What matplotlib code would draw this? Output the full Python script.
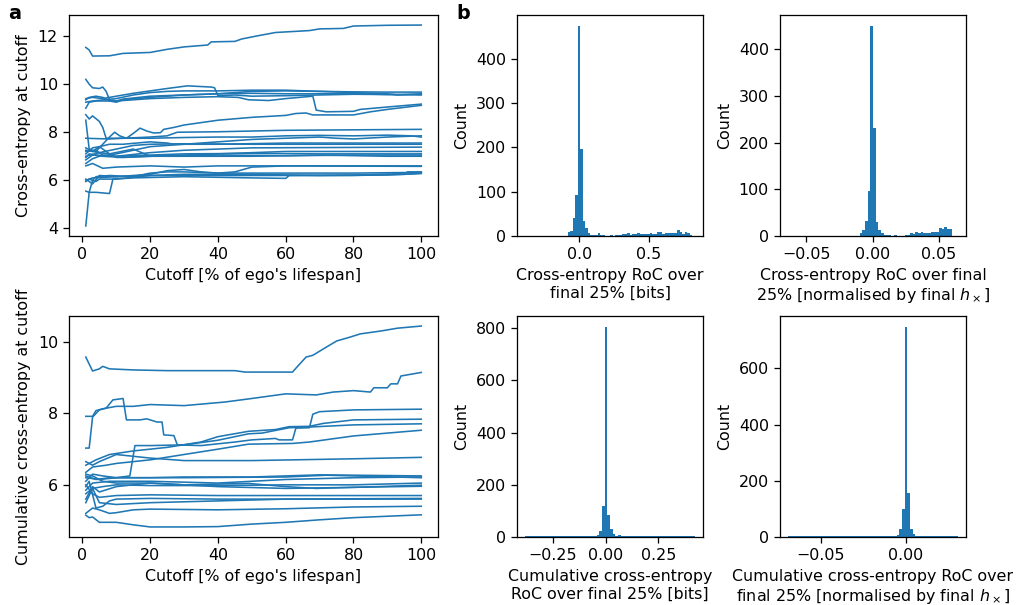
import matplotlib
matplotlib.use("Agg")
import matplotlib.pyplot as plt
import numpy as np

# panel a: (cutoff %, cross-entropy) traces, one list per ego
ce_lines = [
    [(1, 11.53), (2, 11.42), (3, 11.17), (8, 11.18), (12, 11.28), (20, 11.32), (25, 11.45), (30, 11.55), (37, 11.63), (38, 11.76), (45, 11.78), (47, 11.88), (52, 12.02), (57, 12.15), (67, 12.23), (70, 12.3), (77, 12.32), (80, 12.42), (90, 12.45), (100, 12.46)],
    [(1, 10.2), (2, 10.0), (3, 9.85), (5, 9.82), (6, 9.88), (7, 9.7), (8, 9.35), (10, 9.3), (12, 9.38), (20, 9.5), (30, 9.55), (40, 9.6), (50, 9.62), (60, 9.6), (70, 9.6), (80, 9.6), (90, 9.57), (100, 9.55)],
    [(1, 9.4), (3, 9.45), (6, 9.4), (10, 9.5), (15, 9.62), (20, 9.72), (25, 9.82), (31, 9.93), (38, 9.88), (39, 9.85), (40, 9.52), (45, 9.55), (50, 9.5), (60, 9.52), (70, 9.55), (80, 9.58), (90, 9.57), (100, 9.58)],
    [(1, 9.35), (2, 9.45), (4, 9.5), (6, 9.45), (8, 9.3), (10, 9.25), (12, 9.35), (20, 9.45), (30, 9.55), (40, 9.6), (50, 9.7), (60, 9.72), (70, 9.7), (80, 9.68), (90, 9.67), (100, 9.67)],
    [(1, 9.0), (2, 9.25), (4, 9.3), (10, 9.3), (15, 9.35), (20, 9.4), (30, 9.45), (40, 9.48), (46, 9.45), (49, 9.35), (55, 9.32), (60, 9.4), (68, 9.5), (69, 8.92), (72, 8.85), (80, 8.87), (82, 8.95), (90, 9.05), (100, 9.17)],
    [(1, 9.25), (3, 9.3), (10, 9.4), (15, 9.55), (20, 9.65), (25, 9.7), (30, 9.72), (40, 9.72), (50, 9.75), (60, 9.75), (70, 9.7), (80, 9.65), (90, 9.6), (93, 9.55), (100, 9.6)],
    [(1, 8.73), (2, 8.55), (3, 8.68), (5, 8.45), (6, 8.2), (7, 7.75), (10, 7.75), (20, 7.75), (30, 7.78), (40, 7.8), (50, 7.8), (60, 7.85), (70, 7.87), (80, 7.85), (90, 7.88), (97, 7.85), (100, 7.8)],
    [(1, 8.5), (2, 7.3), (4, 7.2), (6, 7.5), (8, 7.8), (9.5, 8.0), (11, 7.85), (13, 7.75), (15, 7.95), (17, 8.17), (19, 8.05), (21, 7.97), (23, 7.98), (24, 8.12), (27, 8.2), (30, 8.3), (35, 8.4), (40, 8.5), (50, 8.62), (60, 8.7), (63, 8.78), (66, 8.8), (68, 8.72), (80, 8.72), (85, 8.85), (90, 8.95), (100, 9.12)],
    [(1, 7.75), (3, 7.74), (8, 7.72), (12, 7.75), (20, 7.8), (25, 7.85), (28, 8.0), (40, 8.02), (60, 8.08), (80, 8.1), (100, 8.12)],
    [(1, 7.35), (3, 7.2), (5, 7.4), (8, 7.5), (12, 7.5), (20, 7.6), (25, 7.55), (27, 7.5), (40, 7.5), (60, 7.55), (80, 7.55), (100, 7.55)],
    [(1, 7.0), (5, 7.15), (10, 7.3), (15, 7.45), (20, 7.5), (30, 7.52), (50, 7.5), (80, 7.5), (100, 7.5)],
    [(1, 6.7), (3, 6.9), (5, 7.0), (10, 7.1), (15, 7.25), (20, 7.4), (30, 7.5), (40, 7.6), (50, 7.7), (60, 7.75), (70, 7.8), (75, 7.75), (80, 7.72), (90, 7.8), (100, 7.85)],
    [(1, 7.2), (4, 7.25), (6, 7.05), (10, 7.0), (20, 7.15), (30, 7.25), (50, 7.35), (100, 7.38)],
    [(1, 7.1), (3, 7.35), (5, 7.4), (8, 7.1), (10, 6.95), (20, 7.0), (40, 7.1), (60, 7.2), (80, 7.2), (100, 7.2)],
    [(1, 6.85), (3, 7.05), (10, 7.0), (20, 7.05), (30, 7.1), (50, 7.12), (70, 7.1), (100, 7.1)],
    [(1, 6.95), (2, 7.1), (6, 7.0), (12, 6.95), (20, 7.0), (40, 7.05), (60, 7.02), (80, 7.05), (100, 7.05)],
    [(1, 7.25), (5, 7.15), (8, 7.1), (15, 7.3), (20, 7.0), (30, 7.0), (50, 7.0), (70, 7.05), (90, 7.0), (100, 7.0)],
    [(1, 6.6), (3, 6.7), (6, 6.5), (10, 6.55), (20, 6.6), (30, 6.55), (40, 6.6), (60, 6.6), (100, 6.6)],
    [(1, 6.0), (3, 6.1), (10, 6.15), (20, 6.25), (25, 6.4), (30, 6.45), (35, 6.35), (40, 6.3), (45, 6.35), (50, 6.55), (60, 6.6), (100, 6.58)],
    [(1, 6.05), (3, 5.85), (5, 6.2), (10, 6.15), (20, 6.2), (40, 6.2), (60, 6.2), (80, 6.22), (95, 6.28), (96, 6.35), (100, 6.35)],
    [(1, 5.55), (2, 5.5), (4, 5.5), (8, 5.45), (9, 6.05), (15, 6.1), (30, 6.15), (50, 6.1), (60, 6.08), (61, 6.2), (80, 6.2), (95, 6.25), (100, 6.3)],
    [(1, 4.1), (2, 5.5), (3, 6.0), (4, 5.95), (5, 6.05), (10, 6.05), (20, 6.2), (30, 6.25), (50, 6.25), (70, 6.2), (90, 6.22), (100, 6.28)],
    [(1, 5.95), (2, 6.05), (3, 6.0), (4, 6.15), (8, 6.2), (15, 6.15), (20, 6.3), (25, 6.35), (30, 6.35), (40, 6.3), (60, 6.3), (80, 6.3), (100, 6.33)],
]

# panel a (lower): cumulative cross-entropy traces
cum_ce_lines = [
    [(1, 9.58), (3, 9.19), (5, 9.25), (6, 9.32), (8, 9.25), (15, 9.22), (25, 9.2), (35, 9.2), (45, 9.2), (48, 9.16), (62, 9.16), (63.5, 9.32), (66, 9.58), (68, 9.63), (72, 9.86), (75, 10.03), (79, 10.14), (82, 10.23), (88, 10.31), (93, 10.39), (100, 10.45)],
    [(1, 7.92), (3, 7.92), (4, 8.08), (6, 8.13), (10, 8.2), (15, 8.2), (20, 8.25), (30, 8.22), (36, 8.27), (42, 8.32), (50, 8.42), (60, 8.55), (69, 8.52), (74, 8.6), (80, 8.64), (85, 8.6), (86, 8.72), (90, 8.72), (91, 8.83), (93, 8.83), (94, 9.05), (97, 9.1), (100, 9.15)],
    [(1, 7.03), (2, 7.03), (3, 7.9), (5, 8.1), (7, 8.15), (9, 8.38), (12, 8.42), (13, 7.82), (17, 7.82), (19, 7.85), (22, 7.76), (23.5, 7.76), (24, 7.4), (27, 7.38), (28, 7.12), (35, 7.1), (45, 7.2), (50, 7.26), (57, 7.3), (58, 7.26), (62, 7.26), (63, 7.59), (67, 7.6), (68, 7.98), (70, 8.05), (80, 8.1), (100, 8.12)],
    [(1, 6.55), (4, 6.7), (8, 6.85), (15, 6.95), (25, 7.05), (35, 7.2), (40, 7.35), (49, 7.5), (57, 7.55), (61, 7.63), (67, 7.64), (71, 7.72), (80, 7.82), (100, 7.84)],
    [(1, 6.2), (5, 6.15), (10, 6.2), (14, 6.25), (15.5, 7.1), (20, 7.1), (30, 7.12), (40, 7.25), (49, 7.43), (53, 7.45), (61, 7.6), (67, 7.62), (80, 7.68), (100, 7.71)],
    [(1, 6.35), (3, 6.5), (7, 6.55), (10, 6.6), (20, 6.7), (30, 6.85), (40, 7.0), (49, 7.14), (62, 7.16), (67, 7.2), (80, 7.37), (90, 7.45), (100, 7.53)],
    [(1, 6.65), (3, 6.55), (5, 6.65), (10, 6.85), (20, 6.75), (30, 6.68), (50, 6.68), (80, 6.73), (100, 6.77)],
    [(1, 6.1), (3, 6.3), (6, 6.25), (10, 6.2), (20, 6.2), (30, 6.22), (50, 6.22), (70, 6.28), (100, 6.25)],
    [(1, 5.85), (3, 6.05), (8, 6.1), (20, 6.1), (40, 6.05), (60, 6.15), (80, 6.2), (100, 6.22)],
    [(1, 6.25), (4, 6.15), (8, 6.2), (15, 6.2), (30, 6.2), (60, 6.22), (72, 6.27), (100, 6.2)],
    [(1, 5.75), (3, 5.9), (6, 5.95), (10, 6.0), (20, 5.98), (40, 5.98), (60, 6.0), (80, 6.0), (100, 6.05)],
    [(1, 6.3), (3, 6.25), (6, 6.1), (10, 6.05), (20, 6.05), (30, 6.0), (49, 6.04), (60, 5.95), (69, 5.9), (80, 5.93), (100, 5.99)],
    [(1, 5.6), (3, 5.95), (5, 5.8), (10, 5.95), (20, 6.05), (30, 6.0), (40, 5.95), (60, 5.9), (80, 5.93), (100, 5.96)],
    [(1, 6.0), (3, 5.75), (5, 5.65), (10, 5.7), (20, 5.72), (40, 5.7), (60, 5.7), (80, 5.7), (100, 5.7)],
    [(1, 5.95), (2, 6.1), (4, 5.35), (6, 5.4), (8, 5.55), (10, 5.6), (20, 5.62), (40, 5.6), (60, 5.6), (100, 5.62)],
    [(1, 5.5), (2, 5.7), (3, 5.9), (5, 5.5), (10, 5.45), (20, 5.5), (40, 5.55), (60, 5.6), (100, 5.6)],
    [(1, 5.2), (3, 5.35), (5, 5.3), (8, 5.2), (10, 5.22), (15, 5.3), (20, 5.32), (40, 5.3), (60, 5.33), (80, 5.38), (100, 5.4)],
    [(1, 5.15), (2, 5.08), (3, 5.1), (5, 4.95), (10, 4.95), (15, 4.88), (20, 4.82), (30, 4.82), (40, 4.83), (50, 4.9), (60, 4.95), (70, 5.02), (80, 5.08), (90, 5.12), (100, 5.16)],
]

# panel b: histogram counts per bin, with the data range of each histogram
roc_bits_range = (-0.39, 0.833)
roc_bits_counts = [1, 0, 0, 0, 0, 0, 0, 0, 0, 0, 0, 0, 0, 0, 0, 0, 0,
                   10, 12, 40, 93, 475, 197, 35, 18, 7, 2, 2, 2, 7, 2, 2, 0, 1, 3, 1, 2,
                   2, 2, 4, 4, 7, 3, 4, 4, 7, 4, 4, 4, 4, 7, 4, 4, 9, 9, 4, 7,
                   7, 7, 7, 7, 14, 9, 4, 9, 6, 3, 1]

roc_norm_range = (-0.0635, 0.0639)
roc_norm_counts = [1] + [0] * 26 + [6, 13, 33, 96, 451, 232, 31, 13, 7, 3,
                                    2, 2, 1, 3, 1, 1, 1, 2, 3, 6,
                                    4, 8, 6, 8, 6, 6, 6, 8, 8, 8,
                                    17, 15, 19, 15, 15, 0, 1]

cum_roc_bits_range = (-0.381, 0.4215)
cum_roc_bits_counts = [3, 2, 3, 2, 3, 3, 2, 3, 2, 3, 2, 3, 2, 3, 3, 2, 3, 2, 3, 2,
                       3, 3, 2, 3, 3, 3, 4, 6, 23, 117, 806, 83, 29, 13, 3, 6,
                       3, 3, 2, 3, 2, 3, 2, 3, 3, 2, 3, 2, 3, 2, 3, 3, 2, 3, 2, 3,
                       2, 3, 2, 3, 2, 3, 2, 3]

cum_roc_norm_range = (-0.0689, 0.0305)
cum_roc_norm_counts = [2, 2, 3, 2, 2, 3, 2, 2, 3, 2, 2, 3, 2, 2, 3, 2, 2, 3, 2, 2,
                       3, 2, 2, 3, 2, 2, 3, 2, 2, 3, 2, 2, 3, 2, 2, 3, 2, 3, 2, 3,
                       3, 6, 27, 101, 749, 157, 27, 12, 4, 3,
                       2, 3, 2, 2, 3, 2, 2, 3, 2, 2, 3, 2, 2, 2]

xlabel_cutoff = "Cutoff [% of ego's lifespan]"


def draw_lines(ax, lines, ylabel):
    for line in lines:
        xs, ys = zip(*line)
        ax.plot(xs, ys, color='C0', linewidth=1.0)
    ax.set_xlabel(xlabel_cutoff)
    ax.set_ylabel(ylabel)


def draw_hist(ax, counts, data_range, xlabel):
    edges = np.linspace(data_range[0], data_range[1], len(counts) + 1)
    ax.bar(edges[:-1], counts, width=np.diff(edges), align='edge', color='C0', linewidth=0)
    ax.set_xlabel(xlabel)
    ax.set_ylabel('Count')


dpi = 114.4
fig = plt.figure(figsize=(1018 / dpi, 605 / dpi), dpi=dpi)

ax_ce = fig.add_axes([0.0678, 0.6099, 0.3625, 0.3653])
ax_cum = fig.add_axes([0.0678, 0.1124, 0.3625, 0.3653])
ax_h1 = fig.add_axes([0.5079, 0.6099, 0.1827, 0.3653])
ax_h2 = fig.add_axes([0.7662, 0.6099, 0.1827, 0.3653])
ax_h3 = fig.add_axes([0.5079, 0.1124, 0.1827, 0.3653])
ax_h4 = fig.add_axes([0.7662, 0.1124, 0.1827, 0.3653])

draw_lines(ax_ce, ce_lines, 'Cross-entropy at cutoff')
draw_lines(ax_cum, cum_ce_lines, 'Cumulative cross-entropy at cutoff')

draw_hist(ax_h1, roc_bits_counts, roc_bits_range, 'Cross-entropy RoC over\nfinal 25% [bits]')
draw_hist(ax_h2, roc_norm_counts, roc_norm_range,
          'Cross-entropy RoC over final\n25% [normalised by final $h_\\times$]')
draw_hist(ax_h3, cum_roc_bits_counts, cum_roc_bits_range, 'Cumulative cross-entropy\nRoC over final 25% [bits]')
draw_hist(ax_h4, cum_roc_norm_counts, cum_roc_norm_range,
          'Cumulative cross-entropy RoC over\nfinal 25% [normalised by final $h_\\times$]')

fig.text(0.008, 0.993, 'a', fontsize=12, fontweight='bold', va='top')
fig.text(0.448, 0.993, 'b', fontsize=12, fontweight='bold', va='top')

fig.savefig('out.png', dpi=dpi)
